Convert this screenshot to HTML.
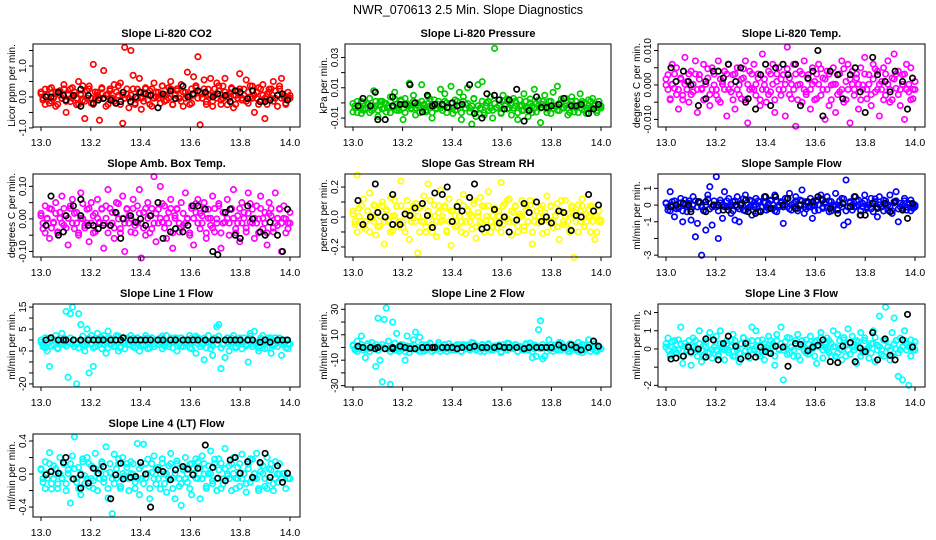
<!DOCTYPE html>
<html><head><meta charset="utf-8"><style>
html,body{margin:0;padding:0;background:#fff;}
svg{display:block;font-family:"Liberation Sans",sans-serif;}
</style></head><body>
<svg id="chart" width="936" height="540" viewBox="0 0 936 540" xmlns="http://www.w3.org/2000/svg">
<rect x="0" y="0" width="936" height="540" fill="#fff"/>
<text x="468" y="14" text-anchor="middle" font-size="12.5">NWR_070613  2.5 Min. Slope Diagnostics</text>
</svg>
<script>
const xTicks = [13.0, 13.2, 13.4, 13.6, 13.8, 14.0];
const xTickLabels = ["13.0","13.2","13.4","13.6","13.8","14.0"];
const timeAll = [13.000,13.008,13.017,13.025,13.034,13.042,13.050,13.059,13.067,13.076,13.084,13.092,13.101,13.109,13.118,13.126,13.134,13.143,13.151,13.160,13.168,13.176,13.185,13.193,13.202,13.210,13.218,13.227,13.235,13.244,13.252,13.261,13.269,13.277,13.286,13.294,13.303,13.311,13.319,13.328,13.336,13.345,13.353,13.361,13.370,13.378,13.387,13.395,13.403,13.412,13.420,13.429,13.437,13.445,13.454,13.462,13.471,13.479,13.487,13.496,13.504,13.513,13.521,13.529,13.538,13.546,13.555,13.563,13.571,13.580,13.588,13.597,13.605,13.613,13.622,13.630,13.639,13.647,13.655,13.664,13.672,13.681,13.689,13.697,13.706,13.714,13.723,13.731,13.739,13.748,13.756,13.765,13.773,13.782,13.790,13.798,13.807,13.815,13.824,13.832,13.840,13.849,13.857,13.866,13.874,13.882,13.891,13.899,13.908,13.916,13.924,13.933,13.941,13.950,13.958,13.966,13.975,13.983,13.992,14.000];
const timeRef = [13.02,13.04,13.07,13.09,13.10,13.13,13.16,13.16,13.19,13.21,13.23,13.25,13.28,13.30,13.32,13.33,13.36,13.38,13.40,13.42,13.44,13.47,13.49,13.52,13.54,13.57,13.59,13.61,13.63,13.66,13.69,13.71,13.74,13.76,13.78,13.80,13.83,13.85,13.88,13.90,13.92,13.95,13.97,13.99];

const co2All = [0.1,-0.1,0.25,0.05,-0.2,0.3,0.0,-0.3,0.15,0.2,-0.05,0.4,-0.5,0.1,-0.15,0.3,0.05,-0.25,0.5,0.1,-0.1,-0.7,0.2,0.35,-0.2,1.05,-0.05,0.15,-0.75,0.3,0.85,-0.3,0.1,0.2,-0.1,0.4,-0.2,0.05,0.45,-0.85,1.6,0.1,-0.35,1.5,0.7,-0.2,0.25,0.6,-0.4,0.1,0.3,-0.1,0.2,-0.3,0.45,0.0,0.15,-0.2,0.35,0.05,-0.1,0.3,0.5,-0.25,0.1,0.2,-0.05,0.4,-0.3,0.15,0.8,0.0,-0.2,0.65,0.3,1.3,-0.9,0.1,0.55,-0.15,0.25,0.6,-0.3,0.05,0.45,0.2,-0.1,0.35,0.6,-0.25,0.1,0.3,-0.35,0.05,0.2,0.75,-0.1,0.25,0.55,-0.2,0.0,0.35,-0.5,0.15,0.3,-0.15,0.4,-0.7,0.1,0.25,-0.05,0.5,0.2,-0.3,0.35,0.6,0.0,-0.2,0.15,0.05];
const co2Core = [0.16,-0.04,-0.24,0.06,0.26,-0.14,-0.04,0.16,-0.24,0.06,-0.04,0.26,-0.14,0.06,0.26,-0.04,0.16,-0.04,-0.24,0.06,0.36,-0.14,-0.04,0.26,-0.04,-0.24,0.16,0.06,-0.04,0.26,-0.04,0.06,-0.24,0.26,-0.04,-0.14,0.16,0.36,-0.24,0.06,-0.04,0.26,-0.04,0.06,0.26,-0.24,-0.04,0.16,-0.04,-0.14,0.26,0.06,-0.24,0.26,-0.04,0.16,-0.04,0.06,0.36,-0.14,0.06,-0.04,0.26,-0.24,0.06,0.26,-0.04,-0.14,0.16,-0.04,0.06,-0.24,0.26,0.06,0.36,-0.04,0.16,-0.04,0.26,-0.24,0.06,0.06,-0.14,0.26,-0.04,0.36,-0.24,-0.04,0.16,0.06,-0.04,0.26,0.06,-0.24,-0.04,0.26,-0.04,0.06,-0.14,0.16,0.36,-0.04,0.06,-0.04,-0.24,0.26,0.06,-0.04,-0.24,0.16,0.26,-0.14,-0.04,0.06,0.26,-0.04,0.06,-0.24,-0.04,-0.04];
const co2Ref = [0.0,0.0,0.15,0.05,-0.1,0.05,0.25,-0.3,0.05,-0.2,-0.1,-0.05,-0.1,-0.2,-0.15,0.15,-0.15,0.0,0.15,0.1,0.05,-0.35,0.1,0.2,-0.05,0.35,0.0,0.1,0.2,0.15,0.0,0.1,0.05,-0.15,0.2,0.15,-0.05,0.2,-0.15,-0.15,-0.1,0.05,0.1,-0.1];
const presAll = [-0.006,-0.002,0.001,-0.003,-0.007,0.000,-0.004,-0.001,0.003,-0.005,0.008,-0.002,-0.009,0.001,-0.004,0.000,-0.006,-0.002,0.004,-0.003,0.007,-0.001,-0.005,0.002,-0.011,0.003,-0.002,0.013,-0.004,0.005,-0.008,0.000,-0.003,0.012,-0.001,-0.006,0.004,-0.002,-0.010,0.002,-0.004,-0.001,0.009,-0.005,0.006,0.000,-0.003,0.011,-0.007,0.002,-0.002,0.007,-0.011,0.004,-0.001,0.010,-0.006,-0.014,0.003,-0.009,0.012,-0.004,0.014,-0.008,0.000,-0.005,0.004,-0.010,0.036,-0.003,0.002,-0.007,0.005,-0.001,-0.004,0.001,-0.008,0.003,-0.002,-0.011,0.002,-0.005,0.006,-0.003,-0.009,0.000,-0.002,0.009,-0.006,0.002,-0.013,-0.001,0.005,-0.004,0.001,-0.007,0.007,-0.002,0.011,-0.005,0.000,-0.003,0.003,-0.008,-0.001,0.004,-0.006,0.001,-0.002,0.006,-0.004,0.000,-0.007,0.002,-0.003,0.003,-0.001,-0.005,0.001,-0.002];
const presCore = [-0.0004,-0.0034,-0.0064,-0.0019,0.0011,-0.0049,-0.0034,-0.0004,-0.0064,-0.0019,-0.0034,0.0011,-0.0049,-0.0019,0.0011,-0.0034,-0.0004,-0.0034,-0.0064,-0.0019,0.0026,-0.0049,-0.0034,0.0011,-0.0034,-0.0064,-0.0004,-0.0019,-0.0034,0.0011,-0.0034,-0.0019,-0.0064,0.0011,-0.0034,-0.0049,-0.0004,0.0026,-0.0064,-0.0019,-0.0034,0.0011,-0.0034,-0.0019,0.0011,-0.0064,-0.0034,-0.0004,-0.0034,-0.0049,0.0011,-0.0019,-0.0064,0.0011,-0.0034,-0.0004,-0.0034,-0.0019,0.0026,-0.0049,-0.0019,-0.0034,0.0011,-0.0064,-0.0019,0.0011,-0.0034,-0.0049,-0.0004,-0.0034,-0.0019,-0.0064,0.0011,-0.0019,0.0026,-0.0034,-0.0004,-0.0034,0.0011,-0.0064,-0.0019,-0.0019,-0.0049,0.0011,-0.0034,0.0026,-0.0064,-0.0034,-0.0004,-0.0019,-0.0034,0.0011,-0.0019,-0.0064,-0.0034,0.0011,-0.0034,-0.0019,-0.0049,-0.0004,0.0026,-0.0034,-0.0019,-0.0034,-0.0064,0.0011,-0.0019,-0.0034,-0.0064,-0.0004,0.0011,-0.0049,-0.0034,-0.0019,0.0011,-0.0034,-0.0019,-0.0064,-0.0034,-0.0034];
const presRef = [-0.002,0.003,-0.002,0.007,-0.011,-0.011,-0.002,0.004,-0.001,-0.001,0.012,0.000,-0.006,0.005,-0.002,-0.001,-0.001,-0.003,0.000,-0.002,-0.001,0.012,-0.007,-0.010,0.006,0.005,0.002,-0.004,0.002,0.009,-0.012,-0.005,0.004,-0.003,-0.003,-0.002,-0.001,0.003,-0.002,-0.002,-0.001,-0.007,-0.004,-0.001];
const tempAll = [0.000,0.003,-0.004,0.006,-0.001,0.005,-0.007,0.002,-0.003,0.008,0.001,-0.005,0.004,-0.002,0.007,-0.008,0.003,-0.001,0.006,-0.004,0.002,-0.006,0.005,0.000,-0.003,0.007,-0.005,0.001,0.004,-0.009,0.006,-0.002,0.003,-0.007,0.005,0.000,-0.004,0.002,0.007,-0.011,0.004,-0.001,0.006,-0.003,0.002,-0.006,0.009,0.000,-0.005,0.004,-0.002,0.006,-0.008,0.001,0.005,-0.003,0.003,-0.009,0.011,0.002,-0.004,0.006,-0.012,0.000,0.004,-0.005,0.007,-0.002,0.003,-0.007,0.005,0.001,-0.004,0.006,-0.003,0.002,-0.010,0.004,-0.006,0.000,0.005,-0.008,0.003,-0.002,0.007,-0.005,0.001,0.006,-0.011,0.004,-0.003,0.002,-0.007,0.005,0.000,0.008,-0.004,0.003,-0.006,0.006,-0.002,0.004,-0.009,0.001,0.005,-0.003,0.007,-0.005,0.002,0.009,-0.001,0.004,-0.006,0.003,-0.010,0.006,-0.002,0.005,-0.004,0.001];
const tempCore = [0.0017,-0.0013,-0.0043,0.0002,0.0032,-0.0028,-0.0013,0.0017,-0.0043,0.0002,-0.0013,0.0032,-0.0028,0.0002,0.0032,-0.0013,0.0017,-0.0013,-0.0043,0.0002,0.0047,-0.0028,-0.0013,0.0032,-0.0013,-0.0043,0.0017,0.0002,-0.0013,0.0032,-0.0013,0.0002,-0.0043,0.0032,-0.0013,-0.0028,0.0017,0.0047,-0.0043,0.0002,-0.0013,0.0032,-0.0013,0.0002,0.0032,-0.0043,-0.0013,0.0017,-0.0013,-0.0028,0.0032,0.0002,-0.0043,0.0032,-0.0013,0.0017,-0.0013,0.0002,0.0047,-0.0028,0.0002,-0.0013,0.0032,-0.0043,0.0002,0.0032,-0.0013,-0.0028,0.0017,-0.0013,0.0002,-0.0043,0.0032,0.0002,0.0047,-0.0013,0.0017,-0.0013,0.0032,-0.0043,0.0002,0.0002,-0.0028,0.0032,-0.0013,0.0047,-0.0043,-0.0013,0.0017,0.0002,-0.0013,0.0032,0.0002,-0.0043,-0.0013,0.0032,-0.0013,0.0002,-0.0028,0.0017,0.0047,-0.0013,0.0002,-0.0013,-0.0043,0.0032,0.0002,-0.0013,-0.0043,0.0017,0.0032,-0.0028,-0.0013,0.0002,0.0032,-0.0013,0.0002,-0.0043,-0.0013,-0.0013];
const tempRef = [0.005,0.001,0.004,0.001,0.000,-0.006,0.001,-0.004,0.004,0.004,0.002,0.006,0.001,0.005,-0.005,-0.004,-0.007,0.003,0.006,-0.006,0.005,0.006,0.003,0.006,-0.006,0.002,0.004,0.010,-0.009,0.004,0.003,-0.004,0.003,0.005,-0.002,-0.008,0.008,0.003,0.001,-0.002,0.004,0.001,-0.007,0.002];
const ambAll = [0.01,-0.03,0.04,0.00,-0.06,0.03,-0.01,0.05,-0.04,0.02,0.07,-0.02,0.01,-0.08,0.04,0.06,-0.03,0.02,-0.05,0.08,0.00,-0.02,0.03,-0.07,0.05,0.01,-0.04,0.06,-0.01,0.03,-0.09,0.04,0.09,-0.02,0.02,-0.06,0.05,0.00,-0.03,0.07,-0.10,0.03,0.01,-0.04,0.06,-0.02,0.04,0.09,-0.12,0.02,-0.05,0.05,0.01,-0.03,0.13,-0.07,0.03,0.10,-0.01,0.04,-0.06,0.02,0.06,-0.09,0.01,0.03,-0.04,0.05,-0.02,0.08,0.00,-0.05,0.04,-0.08,0.02,0.06,-0.03,0.01,0.05,-0.06,0.03,-0.02,0.07,-0.04,0.00,0.04,-0.09,0.02,-0.01,0.06,-0.05,0.03,0.09,-0.03,0.01,-0.07,0.05,0.02,-0.04,0.08,-0.01,0.03,-0.06,0.04,0.00,0.07,-0.03,0.02,-0.08,0.05,0.01,-0.04,0.08,-0.02,0.03,-0.10,0.04,0.00,-0.03,0.02];
const ambCore = [0.017,-0.013,-0.043,0.002,0.032,-0.028,-0.013,0.017,-0.043,0.002,-0.013,0.032,-0.028,0.002,0.032,-0.013,0.017,-0.013,-0.043,0.002,0.047,-0.028,-0.013,0.032,-0.013,-0.043,0.017,0.002,-0.013,0.032,-0.013,0.002,-0.043,0.032,-0.013,-0.028,0.017,0.047,-0.043,0.002,-0.013,0.032,-0.013,0.002,0.032,-0.043,-0.013,0.017,-0.013,-0.028,0.032,0.002,-0.043,0.032,-0.013,0.017,-0.013,0.002,0.047,-0.028,0.002,-0.013,0.032,-0.043,0.002,0.032,-0.013,-0.028,0.017,-0.013,0.002,-0.043,0.032,0.002,0.047,-0.013,0.017,-0.013,0.032,-0.043,0.002,0.002,-0.028,0.032,-0.013,0.047,-0.043,-0.013,0.017,0.002,-0.013,0.032,0.002,-0.043,-0.013,0.032,-0.013,0.002,-0.028,0.017,0.047,-0.013,0.002,-0.013,-0.043,0.032,0.002,-0.013,-0.043,0.017,0.032,-0.028,-0.013,0.002,0.032,-0.013,0.002,-0.043,-0.013,-0.013];
const ambRef = [-0.02,0.07,-0.05,-0.04,0.01,0.04,0.06,0.01,-0.02,-0.02,-0.03,-0.02,-0.02,0.02,-0.06,0.0,0.01,-0.01,0.0,-0.02,0.01,0.05,-0.06,-0.04,-0.03,-0.04,-0.02,0.04,0.04,0.03,-0.10,-0.11,0.02,0.03,-0.05,-0.06,0.04,0.00,-0.04,-0.05,-0.01,-0.05,-0.10,0.03];
const rhAll = [0.02,-0.05,0.28,0.06,-0.03,0.12,-0.08,0.04,0.16,-0.01,0.08,-0.12,0.03,-0.06,0.10,-0.18,0.05,-0.02,0.13,-0.09,0.01,0.07,-0.04,0.24,-0.07,0.02,0.11,-0.15,0.04,-0.01,0.09,-0.24,0.06,-0.03,0.14,-0.10,0.22,0.00,-0.05,0.08,-0.13,0.03,0.18,-0.02,0.06,-0.09,0.12,-0.19,0.04,0.01,-0.06,0.10,-0.03,0.15,-0.11,0.05,0.02,-0.08,0.09,-0.14,0.03,0.13,-0.04,0.07,-0.02,0.17,-0.10,0.01,0.06,-0.07,0.04,0.23,-0.05,0.09,-0.01,0.12,-0.12,0.03,0.07,-0.06,0.02,0.11,-0.09,0.05,-0.03,0.08,-0.18,0.01,0.10,-0.04,0.06,-0.11,0.03,0.14,-0.02,0.07,-0.07,0.01,0.09,-0.15,0.04,-0.05,0.11,0.02,-0.08,0.06,-0.27,0.03,0.08,-0.03,0.12,-0.06,0.02,0.05,-0.10,0.07,-0.15,0.01,0.04,-0.02];
const rhCore = [0.04,-0.03,-0.10,0.005,0.075,-0.065,-0.03,0.04,-0.10,0.005,-0.03,0.075,-0.065,0.005,0.075,-0.03,0.04,-0.03,-0.10,0.005,0.11,-0.065,-0.03,0.075,-0.03,-0.10,0.04,0.005,-0.03,0.075,-0.03,0.005,-0.10,0.075,-0.03,-0.065,0.04,0.11,-0.10,0.005,-0.03,0.075,-0.03,0.005,0.075,-0.10,-0.03,0.04,-0.03,-0.065,0.075,0.005,-0.10,0.075,-0.03,0.04,-0.03,0.005,0.11,-0.065,0.005,-0.03,0.075,-0.10,0.005,0.075,-0.03,-0.065,0.04,-0.03,0.005,-0.10,0.075,0.005,0.11,-0.03,0.04,-0.03,0.075,-0.10,0.005,0.005,-0.065,0.075,-0.03,0.11,-0.10,-0.03,0.04,0.005,-0.03,0.075,0.005,-0.10,-0.03,0.075,-0.03,0.005,-0.065,0.04,0.11,-0.03,0.005,-0.03,-0.10,0.075,0.005,-0.03,-0.10,0.04,0.075,-0.065,-0.03,0.005,0.075,-0.03,0.005,-0.10,-0.03,-0.03];
const rhRef = [0.11,-0.05,0.0,0.22,0.03,0.0,0.15,-0.05,-0.05,0.02,0.01,0.06,0.09,0.01,-0.07,0.16,0.15,0.20,-0.03,0.07,0.04,0.13,0.22,-0.08,-0.07,0.05,-0.04,0.0,-0.10,-0.02,0.09,0.03,0.10,-0.03,0.0,-0.04,0.04,0.03,-0.09,0.01,0.0,0.15,0.04,0.08];
const sfAll = [0.1,-0.3,0.8,0.2,-0.7,0.0,-0.2,0.4,-1.0,0.3,-0.4,0.1,-0.9,0.5,-1.9,-1.1,0.2,-3.0,-0.3,-1.5,0.6,1.1,-1.2,0.0,1.7,-2.0,0.3,-0.8,0.8,-0.1,0.4,-0.5,0.2,-0.9,0.5,-1.0,0.1,-0.3,0.6,-0.2,0.3,-0.6,0.0,0.4,-0.4,0.2,-0.1,0.5,-0.3,0.1,0.3,-0.2,0.6,-0.4,0.0,0.2,-1.1,0.4,-0.1,0.7,-0.3,0.1,0.5,-0.2,0.3,0.9,-0.5,0.2,-0.1,0.4,-0.8,0.0,0.3,-0.3,0.6,-0.2,0.1,0.5,-0.4,0.2,-0.1,0.7,-0.3,0.0,0.4,-1.2,1.5,-1.0,0.2,-0.3,0.5,-0.1,0.3,-0.6,0.1,0.6,-0.2,0.0,0.4,-0.4,0.2,-0.7,0.5,-0.1,0.3,0.0,-0.3,0.6,-0.5,0.2,0.8,-1.0,0.1,-0.2,0.4,-0.3,0.1,0.3,-0.2,0.0];
const sfCore = [0.13,-0.11,-0.35,0.01,0.25,-0.23,-0.11,0.13,-0.35,0.01,-0.11,0.25,-0.23,0.01,0.25,-0.11,0.13,-0.11,-0.35,0.01,0.37,-0.23,-0.11,0.25,-0.11,-0.35,0.13,0.01,-0.11,0.25,-0.11,0.01,-0.35,0.25,-0.11,-0.23,0.13,0.37,-0.35,0.01,-0.11,0.25,-0.11,0.01,0.25,-0.35,-0.11,0.13,-0.11,-0.23,0.25,0.01,-0.35,0.25,-0.11,0.13,-0.11,0.01,0.37,-0.23,0.01,-0.11,0.25,-0.35,0.01,0.25,-0.11,-0.23,0.13,-0.11,0.01,-0.35,0.25,0.01,0.37,-0.11,0.13,-0.11,0.25,-0.35,0.01,0.01,-0.23,0.25,-0.11,0.37,-0.35,-0.11,0.13,0.01,-0.11,0.25,0.01,-0.35,-0.11,0.25,-0.11,0.01,-0.23,0.13,0.37,-0.11,0.01,-0.11,-0.35,0.25,0.01,-0.11,-0.35,0.13,0.25,-0.23,-0.11,0.01,0.25,-0.11,0.01,-0.35,-0.11,-0.11];
const sfRef = [-0.1,0.0,0.1,0.0,-0.4,0.2,0.2,-0.4,0.0,0.0,-0.3,-0.3,0.0,0.0,0.3,-0.4,-0.5,-0.4,0.5,-0.2,0.5,0.0,0.4,-0.2,0.0,0.2,0.2,0.5,0.3,-0.2,-0.5,0.1,-0.1,0.5,-0.6,-0.6,0.1,-0.2,0.1,-0.4,0.2,-0.3,-0.8,0.1];
const l1All = [-1,-3,1,-5,-12,0,-2,2,-4,-1,3,-2,13,-17,12,15,-3,-20,12,7,-2,-5,5,-15,2,-12,-3,3,1,-4,2,-6,4,-2,0,-3,2,-5,-1,1,-4,0,-2,2,-3,-1,1,-5,0,-2,2,-4,-1,1,-3,0,-2,1,-4,-1,2,-3,0,-1,1,-5,-2,1,-3,0,-1,2,-4,-1,-6,1,-3,0,-9,-1,2,-4,-7,0,6,7,-13,-2,-8,1,-5,-1,2,-3,0,-1,-4,1,-2,-10,3,-3,4,-1,-5,0,2,-4,-1,1,-6,-2,1,-3,0,-7,-2,0,-4];
const l1Core = [0,-1.8,-3.6,-0.9,0.9,-2.7,-1.8,0,-3.6,-0.9,-1.8,0.9,-2.7,-0.9,0.9,-1.8,0,-1.8,-3.6,-0.9,1.8,-2.7,-1.8,0.9,-1.8,-3.6,0,-0.9,-1.8,0.9,-1.8,-0.9,-3.6,0.9,-1.8,-2.7,0,1.8,-3.6,-0.9,-1.8,0.9,-1.8,-0.9,0.9,-3.6,-1.8,0,-1.8,-2.7,0.9,-0.9,-3.6,0.9,-1.8,0,-1.8,-0.9,1.8,-2.7,-0.9,-1.8,0.9,-3.6,-0.9,0.9,-1.8,-2.7,0,-1.8,-0.9,-3.6,0.9,-0.9,1.8,-1.8,0,-1.8,0.9,-3.6,-0.9,-0.9,-2.7,0.9,-1.8,1.8,-3.6,-1.8,0,-0.9,-1.8,0.9,-0.9,-3.6,-1.8,0.9,-1.8,-0.9,-2.7,0,1.8,-1.8,-0.9,-1.8,-3.6,0.9,-0.9,-1.8,-3.6,0,0.9,-2.7,-1.8,-0.9,0.9,-1.8,-0.9,-3.6,-1.8,-1.8];
const l1Ref = [0,1,0,0,0,0,0,0,0,0,0,0,0,0,0,1,0,0,0,0,0,0,0,0,0,0,0,0,0,0,0,0,0,0,0,0,0,0,-1,0,-1,0,0,0];
const l2All = [2,-2,5,-1,9,0,-8,3,-1,4,1,-15,23,-10,-27,22,31,5,-29,20,-2,11,-3,-1,2,-10,9,-4,1,6,12,-2,8,0,-3,2,-1,3,0,-2,1,4,-3,0,2,-1,3,-2,0,1,-1,2,-3,1,0,2,-2,4,-1,0,1,-3,2,0,-1,3,-2,0,1,-1,2,-4,0,1,-2,3,-1,0,2,-3,1,-1,0,3,-2,1,-8,2,-7,14,21,-9,-7,1,6,0,-3,2,-1,4,-2,1,0,-3,3,-1,2,-2,4,0,-4,2,-1,6,-3,1,3,-2,0];
const l2Core = [1.2,-1,-3.2,0.1,2.3,-2.1,-1,1.2,-3.2,0.1,-1,2.3,-2.1,0.1,2.3,-1,1.2,-1,-3.2,0.1,3.4,-2.1,-1,2.3,-1,-3.2,1.2,0.1,-1,2.3,-1,0.1,-3.2,2.3,-1,-2.1,1.2,3.4,-3.2,0.1,-1,2.3,-1,0.1,2.3,-3.2,-1,1.2,-1,-2.1,2.3,0.1,-3.2,2.3,-1,1.2,-1,0.1,3.4,-2.1,0.1,-1,2.3,-3.2,0.1,2.3,-1,-2.1,1.2,-1,0.1,-3.2,2.3,0.1,3.4,-1,1.2,-1,2.3,-3.2,0.1,0.1,-2.1,2.3,-1,3.4,-3.2,-1,1.2,0.1,-1,2.3,0.1,-3.2,-1,2.3,-1,0.1,-2.1,1.2,3.4,-1,0.1,-1,-3.2,2.3,0.1,-1,-3.2,1.2,2.3,-2.1,-1,0.1,2.3,-1,0.1,-3.2,-1,-1];
const l2Ref = [1,0,0,-1,0,-1,0,-1,1,0,-1,-1,0,0,0,0,0,0,0,-1,0,0,1,0,0,0,1,0,0,0,-1,0,0,0,0,0,2,0,2,0,-2,0,5,1];
const l3All = [0.1,0.6,-0.3,0.4,0.0,-0.2,0.5,1.2,-0.8,0.3,-0.1,0.2,-0.9,0.6,0.0,-0.4,1.0,-0.7,0.2,0.4,-0.2,0.9,-0.5,0.1,0.7,-0.3,1.0,0.0,-0.6,0.3,-0.2,0.5,0.8,-0.4,0.1,-0.7,0.3,0.6,-0.1,0.4,-0.5,1.2,0.0,1.0,-0.3,0.2,0.5,-0.6,0.1,0.7,-0.2,0.3,-0.9,0.8,0.0,1.2,-1.7,0.4,-0.3,0.6,0.1,-0.4,0.3,0.8,-0.6,0.2,-0.1,0.5,-0.3,0.7,0.0,0.4,-0.8,0.2,0.9,-0.5,0.1,0.6,-0.2,0.3,1.0,-0.4,0.8,0.0,-0.6,0.5,0.2,1.1,-0.3,0.7,0.1,-0.8,0.4,0.9,-0.2,0.6,0.0,-0.5,0.3,1.0,-0.7,0.2,1.8,-0.3,0.5,2.3,0.1,-0.6,0.9,1.7,0.0,-1.5,0.6,-1.7,1.0,0.3,-2.0,0.5,0.2,0.4];
const l3Core = [0.29,-0.05,-0.39,0.12,0.46,-0.22,-0.05,0.29,-0.39,0.12,-0.05,0.46,-0.22,0.12,0.46,-0.05,0.29,-0.05,-0.39,0.12,0.63,-0.22,-0.05,0.46,-0.05,-0.39,0.29,0.12,-0.05,0.46,-0.05,0.12,-0.39,0.46,-0.05,-0.22,0.29,0.63,-0.39,0.12,-0.05,0.46,-0.05,0.12,0.46,-0.39,-0.05,0.29,-0.05,-0.22,0.46,0.12,-0.39,0.46,-0.05,0.29,-0.05,0.12,0.63,-0.22,0.12,-0.05,0.46,-0.39,0.12,0.46,-0.05,-0.22,0.29,-0.05,0.12,-0.39,0.46,0.12,0.63,-0.05,0.29,-0.05,0.46,-0.39,0.12,0.12,-0.22,0.46,-0.05,0.63,-0.39,-0.05,0.29,0.12,-0.05,0.46,0.12,-0.39,-0.05,0.46,-0.05,0.12,-0.22,0.29,0.63,-0.05,0.12,-0.05,-0.39,0.46,0.12,-0.05,-0.39,0.29,0.46,-0.22,-0.05,0.12,0.46,-0.05,0.12,-0.39,-0.05,-0.05];
const l3Ref = [-0.55,-0.5,-0.4,0.1,-0.15,0.0,0.55,-0.45,0.5,-0.6,0.3,0.7,0.15,-0.55,0.3,-0.4,-0.45,0.1,-0.15,-0.25,0.15,0.1,-0.95,0.3,0.25,-0.1,0.1,0.2,0.5,-0.7,-0.75,0.15,0.35,-0.7,0.05,-0.15,0.9,-0.6,0.55,-0.35,-0.6,0.5,1.9,0.1];
const l4All = [0.05,-0.1,0.15,-0.05,0.26,-0.18,0.1,0.0,-0.12,0.2,-0.05,0.12,-0.2,0.05,-0.35,0.22,0.45,-0.1,0.08,-0.25,0.15,-0.02,0.2,-0.15,0.1,-0.08,0.25,-0.2,0.05,0.15,-0.1,0.33,-0.29,0.02,-0.48,0.24,-0.05,0.12,-0.15,0.2,-0.02,0.08,-0.2,0.15,0.0,-0.1,0.37,-0.25,0.1,0.36,-0.05,0.18,-0.3,0.02,0.22,-0.12,0.08,-0.18,0.13,0.0,-0.22,0.1,0.25,-0.05,-0.3,0.16,-0.15,-0.38,0.05,0.2,-0.1,0.12,-0.25,0.07,-0.05,0.15,-0.3,0.22,0.0,-0.15,0.1,0.28,-0.08,0.18,-0.2,0.05,0.13,-0.12,0.31,-0.02,0.1,-0.2,0.2,-0.05,0.08,-0.15,0.24,0.0,-0.22,0.12,-0.1,0.18,-0.05,0.25,-0.2,0.03,0.1,-0.15,0.2,-0.08,0.05,-0.2,0.15,-0.1,0.0];
const l4Core = [0.065,-0.055,-0.175,0.005,0.125,-0.115,-0.055,0.065,-0.175,0.005,-0.055,0.125,-0.115,0.005,0.125,-0.055,0.065,-0.055,-0.175,0.005,0.185,-0.115,-0.055,0.125,-0.055,-0.175,0.065,0.005,-0.055,0.125,-0.055,0.005,-0.175,0.125,-0.055,-0.115,0.065,0.185,-0.175,0.005,-0.055,0.125,-0.055,0.005,0.125,-0.175,-0.055,0.065,-0.055,-0.115,0.125,0.005,-0.175,0.125,-0.055,0.065,-0.055,0.005,0.185,-0.115,0.005,-0.055,0.125,-0.175,0.005,0.125,-0.055,-0.115,0.065,-0.055,0.005,-0.175,0.125,0.005,0.185,-0.055,0.065,-0.055,0.125,-0.175,0.005,0.005,-0.115,0.125,-0.055,0.185,-0.175,-0.055,0.065,0.005,-0.055,0.125,0.005,-0.175,-0.055,0.125,-0.055,0.005,-0.115,0.065,0.185,-0.055,0.005,-0.055,-0.175,0.125,0.005,-0.055,-0.175,0.065,0.125,-0.115,-0.055,0.005,0.125,-0.055,0.005,-0.175,-0.055,-0.055];
const l4Ref = [-0.01,0.03,0.01,0.14,0.2,-0.06,-0.01,-0.17,-0.11,0.07,0.01,0.09,-0.3,-0.01,0.13,-0.06,-0.04,-0.03,0.14,0.0,-0.4,0.05,0.03,-0.07,0.05,0.09,0.06,-0.01,0.07,0.35,0.08,-0.05,-0.08,0.17,0.2,0.01,0.15,-0.04,0.14,0.25,-0.04,0.1,-0.1,0.01];

const co2Ticks=[-1,-0.5,0,0.5,1,1.5], co2Labels=["-1.0","","0.0","","1.0",""];
const presTicks=[-0.01,0,0.01,0.02,0.03], presLabels=["-0.01","","0.01","","0.03"];
const tempTicks=[-0.01,-0.005,0,0.005,0.01], tempLabels=["-0.010","","0.000","","0.010"];
const ambTicks=[-0.1,-0.05,0,0.05,0.1], ambLabels=["-0.10","","0.00","","0.10"];
const rhTicks=[-0.2,-0.1,0,0.1,0.2], rhLabels=["-0.2","","0.0","","0.2"];
const sfTicks=[-3,-2,-1,0,1], sfLabels=["-3","","-1","0","1"];
const l1Ticks=[-20,-15,-10,-5,0,5,10,15], l1Labels=["-20","","","-5","","5","","15"];
const l2Ticks=[-30,-20,-10,0,10,20,30], l2Labels=["-30","","-10","","10","","30"];
const l3Ticks=[-2,-1,0,1,2], l3Labels=["-2","","0","1","2"];
const l4Ticks=[-0.4,-0.2,0,0.2,0.4], l4Labels=["-0.4","","0.0","","0.4"];

const panels = [
 {name:"co2",title:"Slope Li-820 CO2",ylab:"Licor ppm per min.",col:"#ff0000",c:0,r:0,ylo:-0.97,yhi:1.71,all:co2All,core:co2Core,ref:co2Ref,ticks:co2Ticks,labels:co2Labels},
 {name:"pressure",title:"Slope Li-820 Pressure",ylab:"kPa per min.",col:"#00cc00",c:1,r:0,ylo:-0.0159,yhi:0.0389,all:presAll,core:presCore,ref:presRef,ticks:presTicks,labels:presLabels},
 {name:"li820-temp",title:"Slope Li-820 Temp.",ylab:"degrees C per min.",col:"#ff00ff",c:2,r:0,ylo:-0.0122,yhi:0.0119,all:tempAll,core:tempCore,ref:tempRef,ticks:tempTicks,labels:tempLabels},
 {name:"amb-box-temp",title:"Slope Amb. Box Temp.",ylab:"degrees C per min.",col:"#ff00ff",c:0,r:1,ylo:-0.117,yhi:0.138,all:ambAll,core:ambCore,ref:ambRef,ticks:ambTicks,labels:ambLabels},
 {name:"gas-stream-rh",title:"Slope Gas Stream RH",ylab:"percent per min.",col:"#ffff00",c:1,r:1,ylo:-0.267,yhi:0.287,all:rhAll,core:rhCore,ref:rhRef,ticks:rhTicks,labels:rhLabels},
 {name:"sample-flow",title:"Slope Sample Flow",ylab:"ml/min per min.",col:"#0000ff",c:2,r:1,ylo:-3.11,yhi:1.86,all:sfAll,core:sfCore,ref:sfRef,ticks:sfTicks,labels:sfLabels},
 {name:"line1-flow",title:"Slope Line 1 Flow",ylab:"ml/min per min.",col:"#00ffff",c:0,r:2,ylo:-21.4,yhi:16.4,all:l1All,core:l1Core,ref:l1Ref,ticks:l1Ticks,labels:l1Labels},
 {name:"line2-flow",title:"Slope Line 2 Flow",ylab:"ml/min per min.",col:"#00ffff",c:1,r:2,ylo:-31.1,yhi:34.2,all:l2All,core:l2Core,ref:l2Ref,ticks:l2Ticks,labels:l2Labels},
 {name:"line3-flow",title:"Slope Line 3 Flow",ylab:"ml/min per min.",col:"#00ffff",c:2,r:2,ylo:-2.09,yhi:2.47,all:l3All,core:l3Core,ref:l3Ref,ticks:l3Ticks,labels:l3Labels},
 {name:"line4-flow",title:"Slope Line 4 (LT) Flow",ylab:"ml/min per min.",col:"#00ffff",c:0,r:3,ylo:-0.52,yhi:0.485,all:l4All,core:l4Core,ref:l4Ref,ticks:l4Ticks,labels:l4Labels}
];
const colL=[33,345,658], colR=[300,611,925], rowT=[44,174,304,434], rowB=[127,257,387,517];
const NS="http://www.w3.org/2000/svg";
const svg=document.getElementById("chart");
function mk(tag,attrs,parent){const e=document.createElementNS(NS,tag);for(const k in attrs)e.setAttribute(k,attrs[k]);(parent||svg).appendChild(e);return e;}

panels.forEach(p=>{
  const L=colL[p.c],R=colR[p.c],T=rowT[p.r],B=rowB[p.r];
  const x0=L+8,x1=R-10;
  const sx=v=>x0+(v-13.0)*(x1-x0)/1.0;
  const sy=v=>B-(v-p.ylo)*(B-T)/(p.yhi-p.ylo);
  const g=mk("g",{});
  
  
  const t=mk("text",{x:(L+R)/2,y:T-7,"text-anchor":"middle","font-size":"11","font-weight":"bold"},g);
  t.textContent=p.title;
  
  
  const cx=L-18, cy=(T+B)/2;
  const yl=mk("text",{x:cx,y:cy,"text-anchor":"middle","font-size":"10",transform:`rotate(-90 ${cx} ${cy})`},g);
  yl.textContent=p.ylab;
  
  
  const pg=mk("g",{fill:"none",stroke:p.col,"stroke-width":"1.7"},g);
  
  
  [p.all,p.core].forEach(arr=>{
    const n=Math.min(timeAll.length,arr.length);
    for(let i=0;i<n;i++){
      const c=mk("circle",{cx:sx(timeAll[i]).toFixed(1),cy:sy(arr[i]).toFixed(1),r:"2.7"},pg);
      
      
    }
  });
  const bg=mk("g",{fill:"none",stroke:"#000","stroke-width":"1.7"},g);
  
  
  const m=Math.min(timeRef.length,p.ref.length);
  for(let i=0;i<m;i++){
    const c=mk("circle",{cx:sx(timeRef[i]).toFixed(1),cy:sy(p.ref[i]).toFixed(1),r:"2.7"},bg);
    
    
  }
  const box=mk("rect",{x:L,y:T,width:R-L,height:B-T,fill:"none",stroke:"#000","stroke-width":"1"},g);
  
  
  const xa=mk("g",{},g);
  
  
  mk("line",{x1:sx(xTicks[0]),x2:sx(xTicks[xTicks.length-1]),y1:B,y2:B,stroke:"#000"},xa);
  xTicks.forEach((v,i)=>{
    mk("line",{x1:sx(v),x2:sx(v),y1:B,y2:B+4,stroke:"#000"},xa);
    const tl=mk("text",{x:sx(v),y:B+19,"text-anchor":"middle","font-size":"10.5"},xa);
    tl.textContent=xTickLabels[i];
    
    
  });
  const ya=mk("g",{},g);
  
  
  const ty=p.ticks.map(sy);
  mk("line",{x1:L,x2:L,y1:Math.min(...ty),y2:Math.max(...ty),stroke:"#000"},ya);
  p.ticks.forEach((v,i)=>{
    const y=sy(v);
    mk("line",{x1:L-4,x2:L,y1:y,y2:y,stroke:"#000"},ya);
    if(p.labels[i]){
      const lx=L-7;
      const tl=mk("text",{x:lx,y:y,"text-anchor":"middle","font-size":"10",transform:`rotate(-90 ${lx} ${y})`},ya);
      tl.textContent=p.labels[i];
      
      
    }
  });
});
</script>
</body></html>
